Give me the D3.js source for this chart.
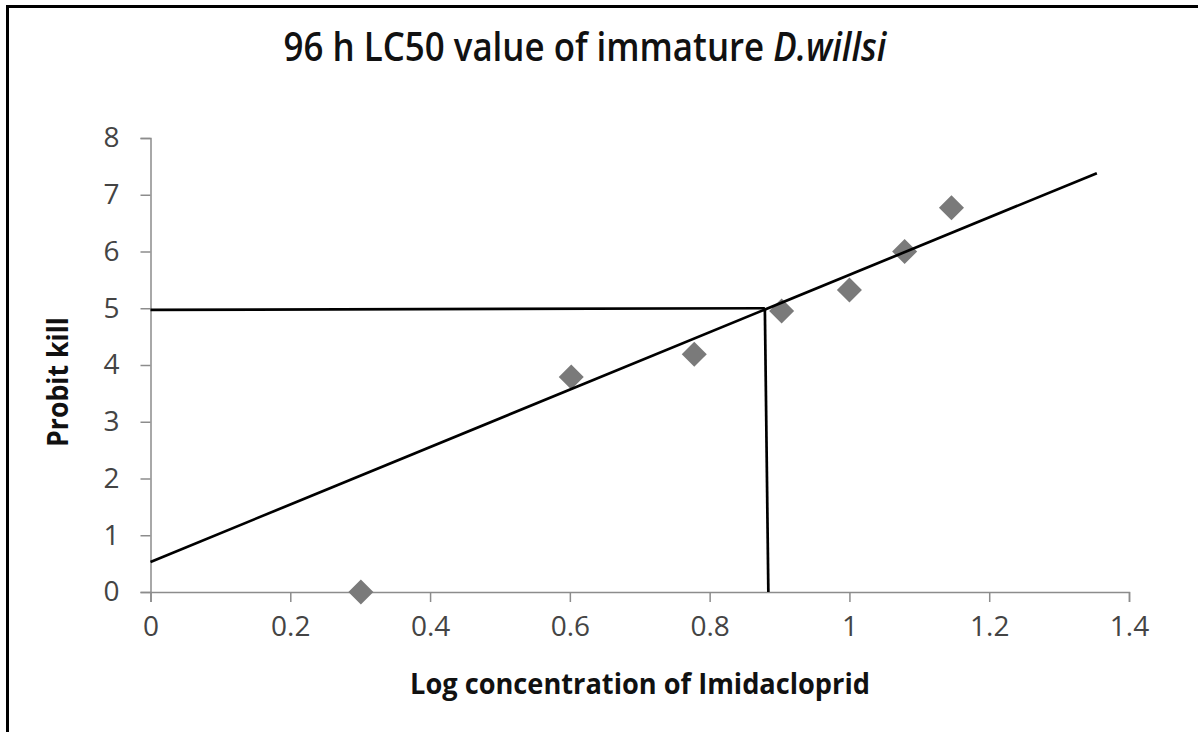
<!DOCTYPE html>
<html>
<head>
<meta charset="utf-8">
<script src="https://cdn.jsdelivr.net/npm/d3@7"></script>
<style>
  body { margin: 0; background: #fff; }
  svg { display: block; }
  .axis path, .axis line { stroke: #8c8c8c; stroke-width: 1.5; }
  .axis text { fill: #444; font-family: "Open Sans", sans-serif; font-size: 28px; }
</style>
</head>
<body>
<svg width="1198" height="732"></svg>
<script>
// observed probit kill vs log concentration
var logConc = [0.301, 0.602, 0.778, 0.903, 1.0, 1.079, 1.146];
var probit  = [0, 3.79, 4.19, 4.95, 5.32, 6.0, 6.77];

// regression line endpoints (x, y)
var fitLine = [[0, 0.53], [1.354, 7.38]];
// LC50 guide lines
var lc50Horiz = [[0, 4.97], [0.879, 5.0]];
var lc50Vert  = [[0.879, 5.0], [0.884, 0]];

var xTicks = [0, 0.2, 0.4, 0.6, 0.8, 1, 1.2, 1.4];
var yTicks = [0, 1, 2, 3, 4, 5, 6, 7, 8];

var svg = d3.select("svg");

var margin = {left: 150.5, top: 138, right: 1198 - 1129, bottom: 732 - 592};
var width = 1198 - margin.left - margin.right,
    height = 732 - margin.top - margin.bottom;

// frame (top and left edges only)
svg.append("line").attr("x1", 6).attr("x2", 1198).attr("y1", 6.5).attr("y2", 6.5)
   .attr("stroke", "#000").attr("stroke-width", 3);
svg.append("line").attr("x1", 7.5).attr("x2", 7.5).attr("y1", 5).attr("y2", 732)
   .attr("stroke", "#000").attr("stroke-width", 3);

var g = svg.append("g").attr("transform", "translate(" + margin.left + "," + margin.top + ")");

var x = d3.scaleLinear().domain([0, 1.4]).range([0, width]);
var y = d3.scaleLinear().domain([0, 8]).range([height, 0]);

g.append("g").attr("class", "axis")
 .attr("transform", "translate(0," + height + ")")
 .call(d3.axisBottom(x).tickValues(xTicks).tickSize(10).tickSizeOuter(10).tickPadding(14)
        .tickFormat(function(d) { return d3.format("")(+d.toFixed(1)); }));

g.append("g").attr("class", "axis")
 .call(d3.axisLeft(y).tickValues(yTicks).tickSize(10).tickSizeOuter(10).tickPadding(21));

var line = d3.line().x(function(d) { return x(d[0]); }).y(function(d) { return y(d[1]); });

// diamonds
var pts = logConc.map(function(v, i) { return [v, probit[i]]; });
g.selectAll(".pt").data(pts).enter().append("path")
 .attr("class", "pt")
 .attr("d", d3.symbol().type(d3.symbolDiamond2).size(400))
 .attr("transform", function(d) { return "translate(" + x(d[0]) + "," + y(d[1]) + ")"; })
 .attr("fill", "#7a7a7a");

[fitLine, lc50Horiz, lc50Vert].forEach(function(l) {
  g.append("path").attr("d", line(l)).attr("fill", "none")
   .attr("stroke", "#000").attr("stroke-width", 2.7);
});

// the original font is a narrow one, so squeeze text horizontally to the width seen
function squeeze(group, text, w) {
  var len = text.node().getComputedTextLength();
  text.attr("transform", "scale(" + (w / len) + ",1)");
}

// title
var tg = svg.append("g").attr("transform", "translate(585,61)");
var title = tg.append("text")
   .attr("text-anchor", "middle")
   .attr("font-family", "Open Sans, sans-serif")
   .attr("font-weight", 600).attr("font-size", 40)
   .attr("fill", "#111");
title.append("tspan").text("96 h LC50 value of immature ");
title.append("tspan").attr("font-style", "italic").text("D.willsi");
squeeze(tg, title, 603);

// axis titles
var xg = svg.append("g").attr("transform", "translate(640,694)");
var xt = xg.append("text")
   .attr("text-anchor", "middle")
   .attr("font-family", "Open Sans, sans-serif")
   .attr("font-weight", "bold").attr("font-size", 28)
   .attr("fill", "#111")
   .text("Log concentration of Imidacloprid");
squeeze(xg, xt, 460);

var yg = svg.append("g").attr("transform", "translate(68,382) rotate(-90)");
var yt = yg.append("text")
   .attr("text-anchor", "middle")
   .attr("font-family", "Open Sans, sans-serif")
   .attr("font-weight", "bold").attr("font-size", 28)
   .attr("fill", "#111")
   .text("Probit kill");
squeeze(yg, yt, 130);
</script>
</body>
</html>
